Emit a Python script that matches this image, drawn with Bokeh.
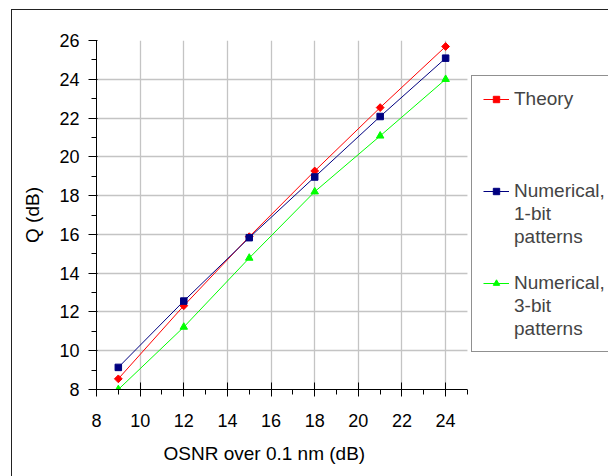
from bokeh.plotting import figure
from bokeh.models import Legend, LegendItem, Range1d, FixedTicker, BoxAnnotation, Title
from bokeh.embed import file_html
from bokeh.resources import INLINE

# Data
osnr = [9, 12, 15, 18, 21, 24]
q_theory = [8.55, 12.32, 15.88, 19.27, 22.54, 25.69]
q_num_1bit = [9.14, 12.56, 15.83, 18.96, 22.08, 25.09]
q_num_3bit = [8.0, 11.22, 14.78, 18.2, 21.08, 24.0]

series_labels = ["Theory", ["Numerical,", "1-bit", "patterns"], ["Numerical,", "3-bit", "patterns"]]
x_ticks = [8, 10, 12, 14, 16, 18, 20, 22, 24]
y_ticks = [8, 10, 12, 14, 16, 18, 20, 22, 24, 26]
x_min, x_max = 8, 25
y_min, y_max = 8, 26

FONT = "Liberation Sans"

# frame spans to the right edge so the legend (drawn inside the frame) can sit there
p = figure(width=597, height=467, output_backend="svg", toolbar_location=None,
           x_range=Range1d(x_min, 31.51), y_range=Range1d(y_min, y_max),
           min_border_left=84, min_border_right=0, min_border_top=30, min_border_bottom=88,
           y_axis_label="Q (dB)")
p.margin = (9, 0, 0, 11)
p.styles = {"border-left": "1px solid #222222", "border-top": "1px solid #222222"}
p.outline_line_color = None
p.background_fill_color = "white"
p.border_fill_color = "white"

for ax in (p.xaxis[0], p.yaxis[0]):
    ax.axis_line_color = "black"
    ax.major_tick_line_color = "black"
    ax.minor_tick_line_color = "black"
    ax.major_label_text_font = FONT
    ax.major_label_text_font_size = "18px"
    ax.major_label_text_color = "black"
    ax.axis_label_text_font = FONT
    ax.axis_label_text_font_size = "19px"
    ax.axis_label_text_font_style = "normal"
    ax.axis_label_text_color = "black"
    ax.minor_tick_out = 5
    ax.minor_tick_in = 0

p.xaxis[0].bounds = (x_min, x_max)
p.xaxis[0].ticker = FixedTicker(ticks=x_ticks, minor_ticks=list(range(x_min, x_max + 1)))
p.yaxis[0].ticker = FixedTicker(ticks=y_ticks, minor_ticks=list(range(y_min, y_max + 1)))
p.xaxis[0].major_tick_out = 7
p.xaxis[0].major_tick_in = 7
p.xaxis[0].major_label_standoff = 17
p.yaxis[0].major_tick_out = 8
p.yaxis[0].major_tick_in = 1
p.yaxis[0].major_label_standoff = 9
p.yaxis[0].axis_label_standoff = 13

# x-axis title placed under the real plot region (frame extends further right)
xtitle = Title(text="OSNR over 0.1 nm (dB)", align="left", offset=67,
               text_font=FONT, text_font_size="19px", text_font_style="normal",
               text_color="black", standoff=23)
p.add_layout(xtitle, "below")

p.xgrid[0].grid_line_color = "#c4c4c4"
p.ygrid[0].grid_line_color = "#c4c4c4"
p.xgrid[0].grid_line_width = 1.3
p.ygrid[0].grid_line_width = 1.3
p.xgrid[0].bounds = (x_min, x_max)

l1 = p.line(osnr, q_theory, line_color="#ff0000", line_width=1)
m1 = p.scatter(osnr, q_theory, marker="square", angle=0.785398, size=5.5,
               fill_color="#ff0000", line_color="#ff0000")
l2 = p.line(osnr, q_num_1bit, line_color="#000080", line_width=1)
m2 = p.scatter(osnr, q_num_1bit, marker="square", size=6.5, fill_color="#000080", line_color="#000080")
l3 = p.line(osnr, q_num_3bit, line_color="#00ff00", line_width=1)
m3 = p.scatter(osnr, q_num_3bit, marker="triangle", size=7.5, fill_color="#00ff00", line_color="#00ff00")
blank = p.line(x=[], y=[], line_alpha=0)  # invisible renderer for continuation lines

# blank out the area right of the plot region (x > 25)
p.add_layout(BoxAnnotation(left=x_max, fill_color="white", fill_alpha=1, line_color=None))

items = [
    LegendItem(label=series_labels[0], renderers=[l1, m1]),
    LegendItem(label=" ", renderers=[blank]),
    LegendItem(label=" ", renderers=[blank]),
    LegendItem(label=" ", renderers=[blank]),
    LegendItem(label=series_labels[1][0], renderers=[l2, m2]),
    LegendItem(label=series_labels[1][1], renderers=[blank]),
    LegendItem(label=series_labels[1][2], renderers=[blank]),
    LegendItem(label=" ", renderers=[blank]),
    LegendItem(label=series_labels[2][0], renderers=[l3, m3]),
    LegendItem(label=series_labels[2][1], renderers=[blank]),
    LegendItem(label=series_labels[2][2], renderers=[blank]),
]
legend = Legend(items=items, location=(375, 37))
legend.border_line_color = "#222222"
legend.border_line_width = 1
legend.background_fill_color = "white"
legend.background_fill_alpha = 1
legend.label_text_font = FONT
legend.label_text_font_size = "19px"
legend.label_height = 23
legend.label_width = 150
legend.glyph_width = 26
legend.glyph_height = 16
legend.label_standoff = 5
legend.spacing = 0
legend.padding = 11
legend.margin = 0
p.add_layout(legend, "center")

open("out.html", "w").write(file_html(p, INLINE))
